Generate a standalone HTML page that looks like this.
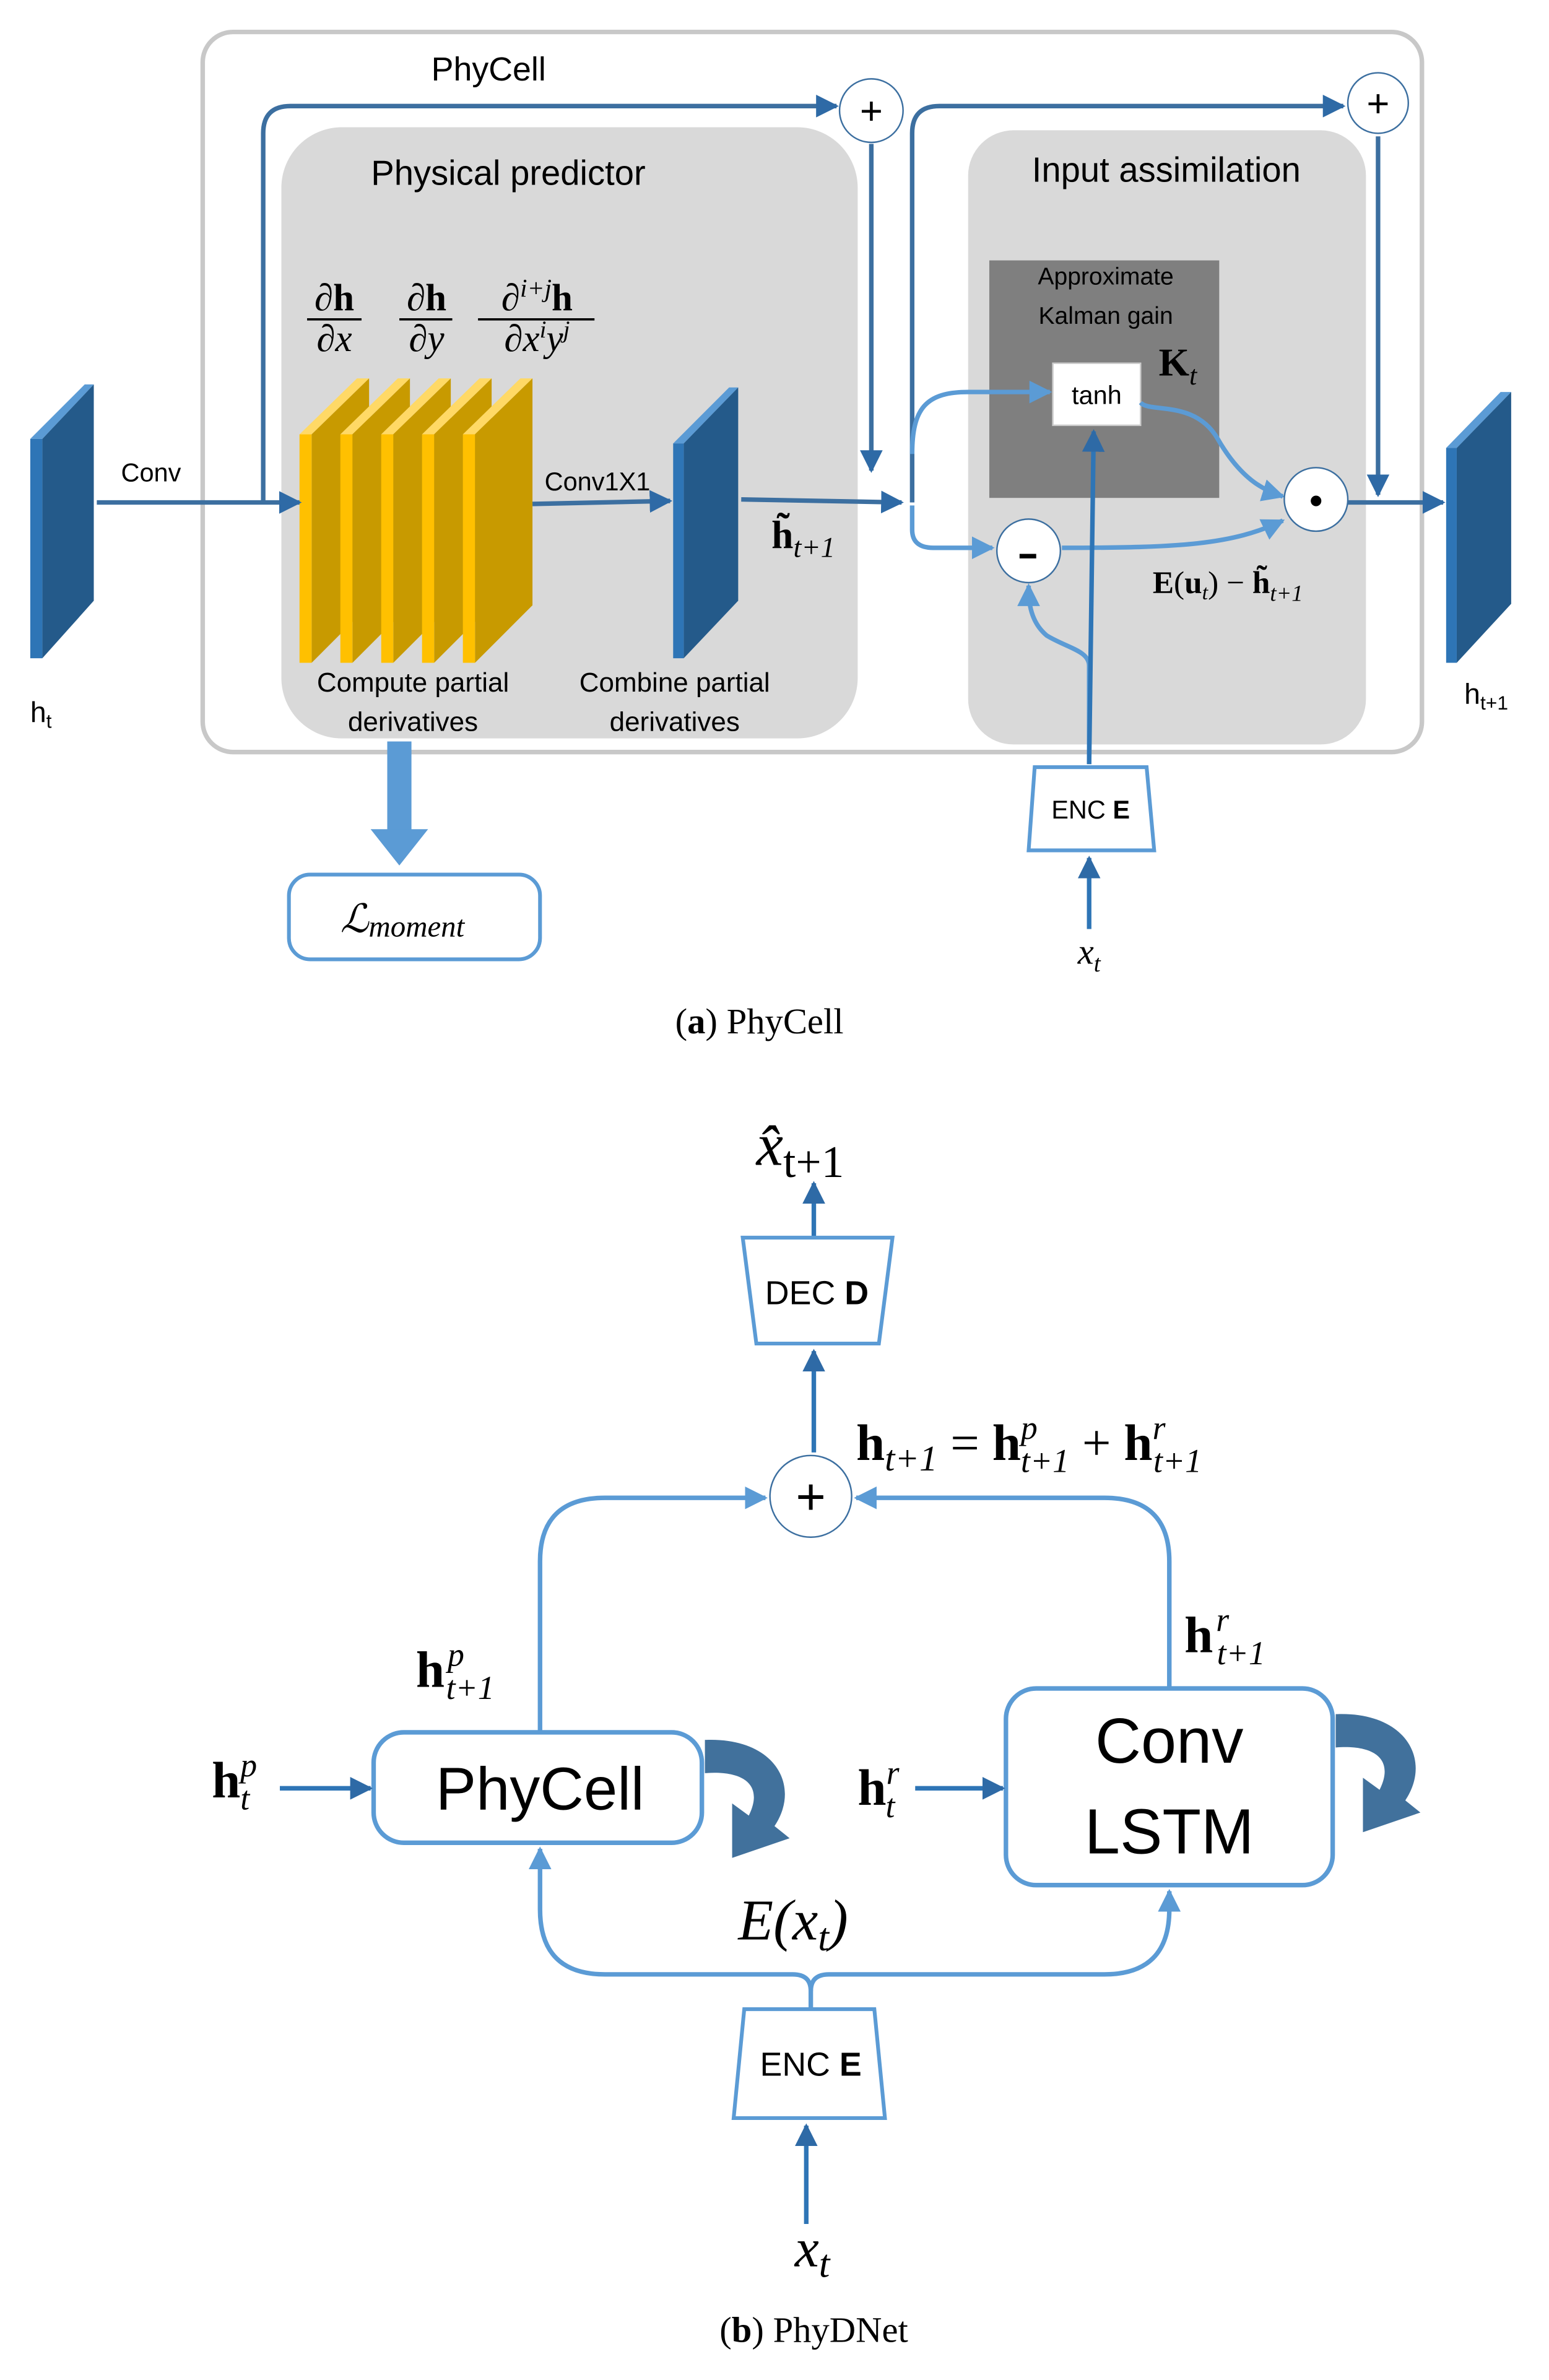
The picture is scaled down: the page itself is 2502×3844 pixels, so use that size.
<!DOCTYPE html>
<html><head><meta charset="utf-8"><style>
html,body{margin:0;padding:0;background:#fff}
svg{display:block}
.s{font-family:"Liberation Sans",sans-serif}
.m{font-family:"Liberation Serif","DejaVu Serif",serif}
</style></head><body>
<svg width="2502" height="3844" viewBox="0 0 1024 1573" xmlns="http://www.w3.org/2000/svg">
<defs>
<marker id="ad" viewBox="0 0 10 10" refX="9" refY="5" markerWidth="5" markerHeight="5" orient="auto"><path d="M0,0 L10,5 L0,10z" fill="#2e6aa6"/></marker>
<marker id="al" viewBox="0 0 10 10" refX="9" refY="5" markerWidth="5" markerHeight="5" orient="auto"><path d="M0,0 L10,5 L0,10z" fill="#5b9bd5"/></marker>
</defs>
<rect x="134" y="21" width="806" height="476" rx="20" fill="#fff" stroke="#c8c8c8" stroke-width="3"/>
<text x="323" y="53" class="s" font-size="22" text-anchor="middle">PhyCell</text>
<rect x="186" y="84" width="381" height="404" rx="40" fill="#d9d9d9"/>
<text x="336" y="122" class="s" font-size="23" text-anchor="middle">Physical predictor</text>
<rect x="640" y="86" width="263" height="406" rx="30" fill="#d9d9d9"/>
<text x="771" y="120" class="s" font-size="23" text-anchor="middle">Input assimilation</text>
<rect x="654" y="172" width="152" height="157" fill="#7f7f7f"/>
<text x="731" y="188" class="s" font-size="16" text-anchor="middle">Approximate</text>
<text x="731" y="214" class="s" font-size="16" text-anchor="middle">Kalman gain</text>
<text x="766" y="248" class="m" font-size="26" font-weight="bold">K<tspan font-size="18" font-style="italic" font-weight="normal" dy="6">t</tspan></text>
<rect x="696" y="240" width="58" height="41" fill="#fff" stroke="#ccc"/>
<text x="725" y="267" class="s" font-size="17" text-anchor="middle">tanh</text>
<g class="m" font-size="25" text-anchor="middle">
<text x="221" y="205" font-weight="bold">∂h</text><line x1="203" y1="211" x2="239" y2="211" stroke="#000" stroke-width="1.5"/><text x="221" y="232" font-style="italic">∂x</text>
<text x="282" y="205" font-weight="bold">∂h</text><line x1="264" y1="211" x2="299" y2="211" stroke="#000" stroke-width="1.5"/><text x="282" y="232" font-style="italic">∂y</text>
<text x="355" y="205">∂<tspan font-size="17" font-style="italic" dy="-9">i+j</tspan><tspan font-weight="bold" dy="9">h</tspan></text><line x1="316" y1="211" x2="393" y2="211" stroke="#000" stroke-width="1.5"/><text x="355" y="232" font-style="italic">∂x<tspan font-size="16" dy="-9">i</tspan><tspan dy="9">y</tspan><tspan font-size="16" dy="-9">j</tspan></text>
</g>
<g>
<path d="M198,287 L236,250 L244,250 L206,287z" fill="#ffd966"/><path d="M206,287 L244,250 L244,400 L206,438z" fill="#c89a00"/><rect x="198" y="287" width="8" height="151" fill="#ffc000"/>
<path d="M225,287 L263,250 L271,250 L233,287z" fill="#ffd966"/><path d="M233,287 L271,250 L271,400 L233,438z" fill="#c89a00"/><rect x="225" y="287" width="8" height="151" fill="#ffc000"/>
<path d="M252,287 L290,250 L298,250 L260,287z" fill="#ffd966"/><path d="M260,287 L298,250 L298,400 L260,438z" fill="#c89a00"/><rect x="252" y="287" width="8" height="151" fill="#ffc000"/>
<path d="M279,287 L317,250 L325,250 L287,287z" fill="#ffd966"/><path d="M287,287 L325,250 L325,400 L287,438z" fill="#c89a00"/><rect x="279" y="287" width="8" height="151" fill="#ffc000"/>
<path d="M306,287 L344,250 L352,250 L314,287z" fill="#ffd966"/><path d="M314,287 L352,250 L352,400 L314,438z" fill="#c89a00"/><rect x="306" y="287" width="8" height="151" fill="#ffc000"/>
</g>
<g>
<path d="M20,290 L56,254 L62,254 L28,290z" fill="#5b9bd5"/><path d="M28,290 L62,254 L62,397 L28,435z" fill="#245a8a"/><rect x="20" y="290" width="8" height="145" fill="#2e75b6"/>
<path d="M445,293 L482,256 L488,256 L452,293z" fill="#5b9bd5"/><path d="M452,293 L488,256 L488,397 L452,435z" fill="#245a8a"/><rect x="445" y="293" width="7" height="142" fill="#2e75b6"/>
<path d="M956,296 L992,259 L999,259 L963,296z" fill="#5b9bd5"/><path d="M963,296 L999,259 L999,399 L963,438z" fill="#245a8a"/><rect x="956" y="296" width="7" height="142" fill="#2e75b6"/>
</g>
<text x="20" y="477" class="s" font-size="19">h<tspan font-size="13" dy="4">t</tspan></text>
<text x="968" y="465" class="s" font-size="19">h<tspan font-size="13" dy="4">t+1</tspan></text>
<text x="80" y="318" class="s" font-size="17">Conv</text>
<text x="360" y="324" class="s" font-size="17">Conv1X1</text>
<text x="273" y="457" class="s" font-size="18" text-anchor="middle">Compute partial</text>
<text x="273" y="483" class="s" font-size="18" text-anchor="middle">derivatives</text>
<text x="446" y="457" class="s" font-size="18" text-anchor="middle">Combine partial</text>
<text x="446" y="483" class="s" font-size="18" text-anchor="middle">derivatives</text>
<text x="510" y="362" class="m" font-size="26" font-weight="bold">h̃<tspan font-size="19" font-style="italic" font-weight="normal" dy="6">t+1</tspan></text>
<text x="762" y="392" class="m" font-size="21"><tspan font-weight="bold">E</tspan>(<tspan font-weight="bold">u</tspan><tspan font-size="14" font-style="italic" dy="4">t</tspan><tspan dy="-4">) − </tspan><tspan font-weight="bold">h̃</tspan><tspan font-size="15" font-style="italic" dy="5">t+1</tspan></text>
<g fill="none" stroke="#3c6fa0" stroke-width="3">
<path d="M64,332 L198,332" marker-end="url(#ad)"/>
<path d="M352,333 L443,331" marker-end="url(#ad)"/>
<path d="M174,332 L174,88 Q174,70 192,70 L553,70" marker-end="url(#ad)"/>
<path d="M576,95 L576,311" marker-end="url(#ad)"/>
<path d="M490,330 L596,332" marker-end="url(#ad)"/>
<path d="M603,332 L603,88 Q603,70 621,70 L888,70" marker-end="url(#ad)"/>
<path d="M911,90 L911,327" marker-end="url(#ad)"/>
<path d="M890,332 L954,332" marker-end="url(#ad)"/>
</g>
<g fill="none" stroke="#5b9bd5" stroke-width="3">
<path d="M603,300 C603,270 612,259 640,259 L694,259" marker-end="url(#al)"/>
<path d="M603,334 L603,350 Q603,362 617,362 L656,362" marker-end="url(#al)"/>
<path d="M702,362 C780,362 815,360 848,344" marker-end="url(#al)"/>
<path d="M754,266 C760,273 790,264 805,290 C820,316 835,324 848,328" marker-end="url(#al)"/>
<path d="M720,505 L720,440 C720,430 705,428 692,420 C680,410 680,395 680,387" marker-end="url(#al)"/>
</g>
<path d="M720,505 L723,285" stroke="#2e75b6" stroke-width="3" fill="none" marker-end="url(#ad)"/>
<g fill="#fff" stroke="#3c6fa0" stroke-width="1">
<circle cx="576" cy="73" r="21"/><circle cx="911" cy="68" r="20"/><circle cx="680" cy="364" r="21"/><circle cx="870" cy="330" r="21"/>
</g>
<text x="576" y="82" class="s" font-size="26" text-anchor="middle">+</text>
<text x="911" y="77" class="s" font-size="26" text-anchor="middle">+</text>
<rect x="674" y="366" width="11" height="3" fill="#000"/>
<circle cx="870" cy="331" r="3.5" fill="#000"/>
<path d="M684,507 L758,507 L763,562 L680,562z" fill="#fff" stroke="#5b9bd5" stroke-width="2.5"/>
<text x="721" y="541" class="s" font-size="17" text-anchor="middle">ENC <tspan font-weight="bold">E</tspan></text>
<path d="M720,614 L720,567" stroke="#2e75b6" stroke-width="3" marker-end="url(#ad)"/>
<text x="720" y="637" class="m" font-size="24" font-style="italic" text-anchor="middle">x<tspan font-size="16" dy="5">t</tspan></text>
<rect x="256" y="490" width="16" height="60" fill="#5b9bd5"/>
<path d="M245,548 L283,548 L264,572z" fill="#5b9bd5"/>
<rect x="191" y="578" width="166" height="56" rx="14" fill="#fff" stroke="#5b9bd5" stroke-width="2.5"/>
<text x="225" y="616" class="m" font-size="26" font-style="italic">ℒ<tspan font-size="20" dy="3">moment</tspan></text>
<text x="502" y="683" class="m" font-size="24" text-anchor="middle">(<tspan font-weight="bold">a</tspan>) PhyCell</text>

<text x="500" y="770" class="m" font-size="40" font-style="italic">x̂<tspan font-size="30" font-style="normal" dy="8">t+1</tspan></text>
<path d="M538,818 L538,782" stroke="#2e75b6" stroke-width="3" marker-end="url(#ad)"/>
<path d="M491,818 L590,818 L581,888 L500,888z" fill="#fff" stroke="#5b9bd5" stroke-width="2.5"/>
<text x="540" y="862" class="s" font-size="22" text-anchor="middle">DEC <tspan font-weight="bold">D</tspan></text>
<path d="M538,960 L538,893" stroke="#2e75b6" stroke-width="3" marker-end="url(#ad)"/>
<text x="566" y="965" class="m" font-size="34"><tspan font-weight="bold">h</tspan><tspan font-size="24" font-style="italic" dy="7">t+1</tspan><tspan dy="-7"> = </tspan><tspan font-weight="bold">h</tspan><tspan font-size="22" font-style="italic" dy="-14">p</tspan><tspan font-size="22" font-style="italic" dx="-11" dy="22">t+1</tspan><tspan dy="-8"> + </tspan><tspan font-weight="bold">h</tspan><tspan font-size="22" font-style="italic" dy="-14">r</tspan><tspan font-size="22" font-style="italic" dx="-8" dy="22">t+1</tspan></text>
<g fill="none" stroke="#5b9bd5" stroke-width="3">
<path d="M357,1145 L357,1032 Q357,990 400,990 L506,990" marker-end="url(#al)"/>
<path d="M773,1116 L773,1032 Q773,990 730,990 L566,990" marker-end="url(#al)"/>
<path d="M536,1328 L536,1316 Q536,1305 524,1305 L400,1305 Q357,1305 357,1262 L357,1222" marker-end="url(#al)"/>
<path d="M536,1316 Q536,1305 548,1305 L730,1305 Q773,1305 773,1262 L773,1250" marker-end="url(#al)"/>
</g>
<circle cx="536" cy="989" r="27" fill="#fff" stroke="#3c6fa0" stroke-width="1"/>
<text x="536" y="1001" class="s" font-size="34" text-anchor="middle">+</text>
<text x="275" y="1115" class="m" font-size="34" font-weight="bold">h<tspan font-size="22" font-style="italic" font-weight="normal" dx="2" dy="-14">p</tspan><tspan font-size="22" font-style="italic" font-weight="normal" dx="-12" dy="22">t+1</tspan></text>
<text x="783" y="1092" class="m" font-size="34" font-weight="bold">h<tspan font-size="22" font-style="italic" font-weight="normal" dx="2" dy="-14">r</tspan><tspan font-size="22" font-style="italic" font-weight="normal" dx="-8" dy="22">t+1</tspan></text>
<rect x="247" y="1145" width="217" height="73" rx="20" fill="#fff" stroke="#5b9bd5" stroke-width="3"/>
<text x="357" y="1196" class="s" font-size="40" text-anchor="middle">PhyCell</text>
<rect x="665" y="1116" width="216" height="130" rx="20" fill="#fff" stroke="#5b9bd5" stroke-width="3"/>
<text x="773" y="1165" class="s" font-size="42" text-anchor="middle">Conv</text>
<text x="773" y="1225" class="s" font-size="42" text-anchor="middle">LSTM</text>
<path d="M466,1150 C512,1148 530,1180 512,1207 L522,1215 L484,1228 L484,1192 L495,1200 C505,1180 492,1170 466,1172z" fill="#41719c"/>
<path d="M883,1133 C929,1131 947,1163 929,1190 L939,1198 L901,1211 L901,1175 L912,1183 C922,1163 909,1153 883,1155z" fill="#41719c"/>
<text x="140" y="1188" class="m" font-size="34" font-weight="bold">h<tspan font-size="22" font-style="italic" font-weight="normal" dy="-14">p</tspan><tspan font-size="22" font-style="italic" font-weight="normal" dx="-11" dy="22">t</tspan></text>
<path d="M185,1182 L245,1182" stroke="#2e75b6" stroke-width="3" marker-end="url(#ad)"/>
<text x="567" y="1193" class="m" font-size="34" font-weight="bold">h<tspan font-size="22" font-style="italic" font-weight="normal" dy="-14">r</tspan><tspan font-size="22" font-style="italic" font-weight="normal" dx="-9" dy="22">t</tspan></text>
<path d="M605,1182 L663,1182" stroke="#2e75b6" stroke-width="3" marker-end="url(#ad)"/>
<text x="488" y="1282" class="m" font-size="38" font-style="italic">E(x<tspan font-size="26" dy="7">t</tspan><tspan dy="-7">)</tspan></text>
<path d="M492,1328 L578,1328 L585,1400 L485,1400z" fill="#fff" stroke="#5b9bd5" stroke-width="2.5"/>
<text x="536" y="1372" class="s" font-size="22" text-anchor="middle">ENC <tspan font-weight="bold">E</tspan></text>
<path d="M533,1470 L533,1405" stroke="#2e75b6" stroke-width="3" marker-end="url(#ad)"/>
<text x="537" y="1498" class="m" font-size="36" font-style="italic" text-anchor="middle">x<tspan font-size="26" dy="7">t</tspan></text>
<text x="538" y="1548" class="m" font-size="24" text-anchor="middle">(<tspan font-weight="bold">b</tspan>) PhyDNet</text>
</svg>
</body></html>
